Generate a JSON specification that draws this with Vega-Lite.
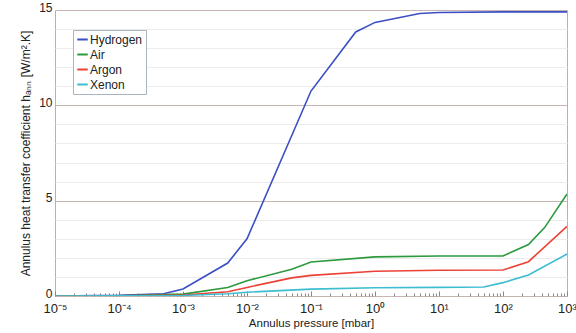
{
  "$schema": "https://vega.github.io/schema/vega-lite/v6.json",
  "width": 512,
  "height": 286,
  "autosize": "none",
  "padding": {"left": 55, "top": 10, "right": 9, "bottom": 37},
  "background": "white",
  "config": {
    "font": "Liberation Sans",
    "view": {"stroke": "#a9b4c2", "strokeWidth": 1},
    "axis": {"labelFont": "Liberation Sans", "titleFont": "Liberation Sans", "labelFontSize": 12, "titleFontSize": 12, "labelColor": "#222", "titleColor": "#222", "titleFontWeight": "normal", "domain": false}
  },
  "data": {"values": [
    {"gas": "Hydrogen", "p": 1e-5, "h": 0},
    {"gas": "Hydrogen", "p": 1e-4, "h": 0.04},
    {"gas": "Hydrogen", "p": 5e-4, "h": 0.12},
    {"gas": "Hydrogen", "p": 1e-3, "h": 0.37},
    {"gas": "Hydrogen", "p": 5e-3, "h": 1.73},
    {"gas": "Hydrogen", "p": 1e-2, "h": 3.0},
    {"gas": "Hydrogen", "p": 1e-1, "h": 10.75},
    {"gas": "Hydrogen", "p": 5e-1, "h": 13.85},
    {"gas": "Hydrogen", "p": 1, "h": 14.35},
    {"gas": "Hydrogen", "p": 5, "h": 14.82},
    {"gas": "Hydrogen", "p": 10, "h": 14.87},
    {"gas": "Hydrogen", "p": 100, "h": 14.9},
    {"gas": "Hydrogen", "p": 1000, "h": 14.9},
    {"gas": "Air", "p": 1e-5, "h": 0},
    {"gas": "Air", "p": 1e-4, "h": 0.01},
    {"gas": "Air", "p": 1e-3, "h": 0.1},
    {"gas": "Air", "p": 5e-3, "h": 0.45},
    {"gas": "Air", "p": 1e-2, "h": 0.8},
    {"gas": "Air", "p": 5e-2, "h": 1.4},
    {"gas": "Air", "p": 1e-1, "h": 1.78},
    {"gas": "Air", "p": 1, "h": 2.05},
    {"gas": "Air", "p": 10, "h": 2.1},
    {"gas": "Air", "p": 100, "h": 2.1},
    {"gas": "Air", "p": 250, "h": 2.7},
    {"gas": "Air", "p": 450, "h": 3.6},
    {"gas": "Air", "p": 1000, "h": 5.35},
    {"gas": "Argon", "p": 1e-5, "h": 0},
    {"gas": "Argon", "p": 1e-4, "h": 0.005},
    {"gas": "Argon", "p": 1e-3, "h": 0.05},
    {"gas": "Argon", "p": 5e-3, "h": 0.22},
    {"gas": "Argon", "p": 1e-2, "h": 0.45},
    {"gas": "Argon", "p": 5e-2, "h": 0.95},
    {"gas": "Argon", "p": 1e-1, "h": 1.08},
    {"gas": "Argon", "p": 1, "h": 1.3},
    {"gas": "Argon", "p": 10, "h": 1.35},
    {"gas": "Argon", "p": 100, "h": 1.36},
    {"gas": "Argon", "p": 250, "h": 1.8},
    {"gas": "Argon", "p": 1000, "h": 3.65},
    {"gas": "Xenon", "p": 1e-5, "h": 0},
    {"gas": "Xenon", "p": 1e-3, "h": 0.03},
    {"gas": "Xenon", "p": 5e-3, "h": 0.12},
    {"gas": "Xenon", "p": 1e-2, "h": 0.2},
    {"gas": "Xenon", "p": 1e-1, "h": 0.36},
    {"gas": "Xenon", "p": 1, "h": 0.43},
    {"gas": "Xenon", "p": 10, "h": 0.45},
    {"gas": "Xenon", "p": 50, "h": 0.47},
    {"gas": "Xenon", "p": 100, "h": 0.7},
    {"gas": "Xenon", "p": 250, "h": 1.1},
    {"gas": "Xenon", "p": 1000, "h": 2.2}
  ]},
  "mark": {"type": "line", "strokeWidth": 1.6, "clip": true},
  "encoding": {
    "x": {
      "field": "p", "type": "quantitative",
      "scale": {"type": "log", "domain": [1e-5, 1000], "nice": false},
      "axis": {
        "title": "Annulus pressure [mbar]",
        "titleFontSize": 11.5,
        "titlePadding": 0,
        "grid": false,
        "values": [1e-5,2e-5,3e-5,4e-5,5e-5,6e-5,7e-5,8e-5,9e-5,1e-4,2e-4,3e-4,4e-4,5e-4,6e-4,7e-4,8e-4,9e-4,1e-3,2e-3,3e-3,4e-3,5e-3,6e-3,7e-3,8e-3,9e-3,1e-2,2e-2,3e-2,4e-2,5e-2,6e-2,7e-2,8e-2,9e-2,0.1,0.2,0.3,0.4,0.5,0.6,0.7,0.8,0.9,1,2,3,4,5,6,7,8,9,10,20,30,40,50,60,70,80,90,100,200,300,400,500,600,700,800,900,1000],
        "labelExpr": "abs(log(datum.value)/LN10 - round(log(datum.value)/LN10)) < 0.01 ? '10' + ['⁻⁵','⁻⁴','⁻³','⁻²','⁻¹','⁰','¹','²','³'][round(log(datum.value)/LN10)+5] : ''",
        "labelPadding": 11,
        "labelFontSize": 13,
        "tickColor": "#888",
        "tickSize": {"condition": {"test": "abs(log(datum.value)/LN10 - round(log(datum.value)/LN10)) < 0.01", "value": -5}, "value": -3},
        "labelFlush": false,
        "labelOverlap": false
      }
    },
    "y": {
      "field": "h", "type": "quantitative",
      "scale": {"domain": [0, 15], "nice": false},
      "axis": {
        "title": "Annulus heat transfer coefficient hₐₙₙ [W/m².K]",
        "titlePadding": 6,
        "values": [0,1,2,3,4,5,6,7,8,9,10,11,12,13,14,15],
        "labelExpr": "datum.value % 5 === 0 ? datum.label : ''",
        "gridColor": {"condition": {"test": "datum.value % 5 === 0", "value": "#c8b4b0"}, "value": "#ececec"},
        "gridWidth": 1,
        "ticks": false,
        "labelPadding": 3,
        "labelOffset": -3
      }
    },
    "color": {
      "field": "gas", "type": "nominal",
      "scale": {"domain": ["Hydrogen", "Air", "Argon", "Xenon"], "range": ["#3b4fc4", "#2a9a3c", "#ec4236", "#3cbdd2"]},
      "legend": {
        "title": null,
        "orient": "none",
        "legendX": 18,
        "legendY": 20,
        "symbolType": "stroke",
        "symbolStrokeWidth": 2,
        "symbolSize": 110,
        "labelFontSize": 12,
        "labelFont": "Liberation Sans",
        "labelColor": "#222",
        "rowPadding": 2,
        "padding": 3,
        "strokeColor": "#a9b4c2",
        "fillColor": "white",
        "labelOffset": 1
      }
    }
  }
}
